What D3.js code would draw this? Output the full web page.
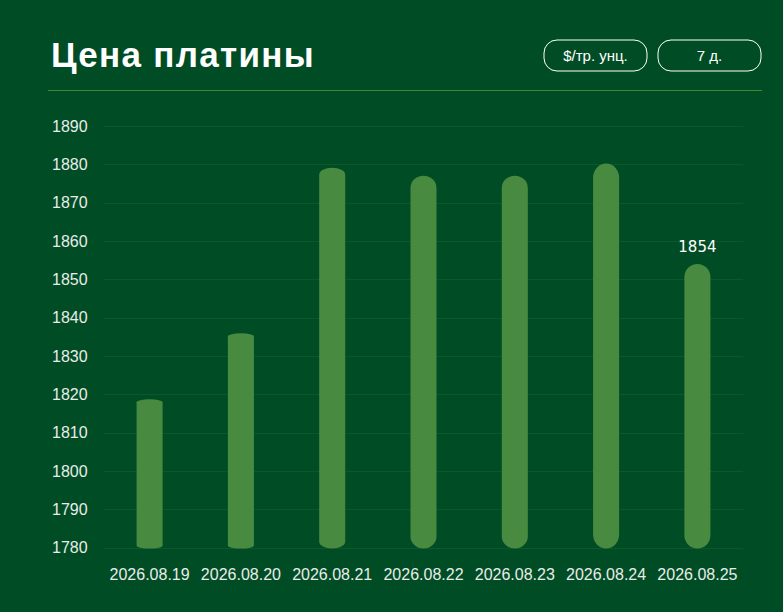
<!DOCTYPE html>
<html>
<head>
<meta charset="utf-8">
<script src="https://cdn.jsdelivr.net/npm/d3@7"></script>
<style>
  html, body { margin: 0; padding: 0; background: #004d25; }
  svg { display: block; }
</style>
</head>
<body>
<div id="chart"></div>
<script>
// data
var dates = ["2026.08.19", "2026.08.20", "2026.08.21", "2026.08.22", "2026.08.23", "2026.08.24", "2026.08.25"];
var prices = [1818.7, 1835.9, 1879.1, 1877, 1877, 1880.2, 1854];
var yTicks = [1780, 1790, 1800, 1810, 1820, 1830, 1840, 1850, 1860, 1870, 1880, 1890];
var buttons = ["$/тр. унц.", "7 д."];
var title = "Цена платины";

// cap roundness of each bar (style only)
var capRy = [3, 3, 7, 12, 12, 14, 13];

var W = 783, H = 612;
var bg = "#004d25", barColor = "#478a40", gridColor = "#0a582b", textColor = "#e9ece9";

var svg = d3.select("#chart").append("svg")
    .attr("width", W)
    .attr("height", H);

svg.append("rect").attr("width", W).attr("height", H).attr("fill", bg);

// header
svg.append("text")
    .attr("x", 51)
    .attr("y", 67)
    .attr("font-family", "Liberation Sans, Arial, sans-serif")
    .attr("font-weight", 700)
    .attr("font-size", 35)
    .attr("letter-spacing", 1.3)
    .attr("fill", "#ffffff")
    .text(title);

var btn = svg.selectAll(".btn")
    .data(buttons)
  .enter().append("g")
    .attr("class", "btn")
    .attr("transform", function(d, i) { return "translate(" + (544 + i * 114) + ",40)"; });

btn.append("rect")
    .attr("width", 103)
    .attr("height", 31)
    .attr("rx", 13)
    .attr("fill", "none")
    .attr("stroke", "#ffffff")
    .attr("stroke-width", 1);

btn.append("text")
    .attr("x", 51.5)
    .attr("y", 16)
    .attr("dy", "0.35em")
    .attr("text-anchor", "middle")
    .attr("font-family", "Liberation Sans, Arial, sans-serif")
    .attr("font-size", 15)
    .attr("fill", "#ffffff")
    .text(function(d) { return d; });

svg.append("line")
    .attr("x1", 48).attr("x2", 762)
    .attr("y1", 90.5).attr("y2", 90.5)
    .attr("stroke", "#3e8a30")
    .attr("stroke-width", 1);

// scales
var x = d3.scaleBand()
    .domain(dates)
    .range([104, 743])
    .paddingInner(0.715)
    .paddingOuter(0.357);

var y = d3.scaleLinear()
    .domain([1780, 1890])
    .range([547.6, 126]);

// grid
svg.selectAll(".grid")
    .data(yTicks)
  .enter().append("line")
    .attr("class", "grid")
    .attr("x1", 104).attr("x2", 743)
    .attr("y1", function(d) { return Math.round(y(d)) + 0.5; })
    .attr("y2", function(d) { return Math.round(y(d)) + 0.5; })
    .attr("stroke", gridColor)
    .attr("stroke-width", 1);

// y labels
svg.selectAll(".ylab")
    .data(yTicks)
  .enter().append("text")
    .attr("class", "ylab")
    .attr("x", 52)
    .attr("y", function(d) { return y(d); })
    .attr("dy", "0.35em")
    .attr("font-family", "Liberation Sans, Arial, sans-serif")
    .attr("font-size", 16)
    .attr("fill", textColor)
    .text(function(d) { return d; });

// x labels
svg.selectAll(".xlab")
    .data(dates)
  .enter().append("text")
    .attr("class", "xlab")
    .attr("x", function(d) { return x(d) + x.bandwidth() / 2; })
    .attr("y", 574)
    .attr("dy", "0.35em")
    .attr("text-anchor", "middle")
    .attr("font-family", "Liberation Sans, Arial, sans-serif")
    .attr("font-size", 16)
    .attr("fill", textColor)
    .text(function(d) { return d; });

// bars
svg.selectAll(".bar")
    .data(prices)
  .enter().append("rect")
    .attr("class", "bar")
    .attr("x", function(d, i) { return x(dates[i]); })
    .attr("width", x.bandwidth())
    .attr("y", function(d) { return y(d); })
    .attr("height", function(d) { return y(1780) - y(d) + 1; })
    .attr("rx", x.bandwidth() / 2)
    .attr("ry", function(d, i) { return capRy[i]; })
    .attr("fill", barColor);

// value label on the last bar
var last = prices.length - 1;
svg.append("text")
    .attr("x", x(dates[last]) + x.bandwidth() / 2)
    .attr("y", y(prices[last]) - 17)
    .attr("dy", "0.35em")
    .attr("text-anchor", "middle")
    .attr("font-family", "DejaVu Sans, sans-serif")
    .attr("font-size", 15)
    .attr("fill", "#ffffff")
    .text(prices[last]);
</script>
</body>
</html>
